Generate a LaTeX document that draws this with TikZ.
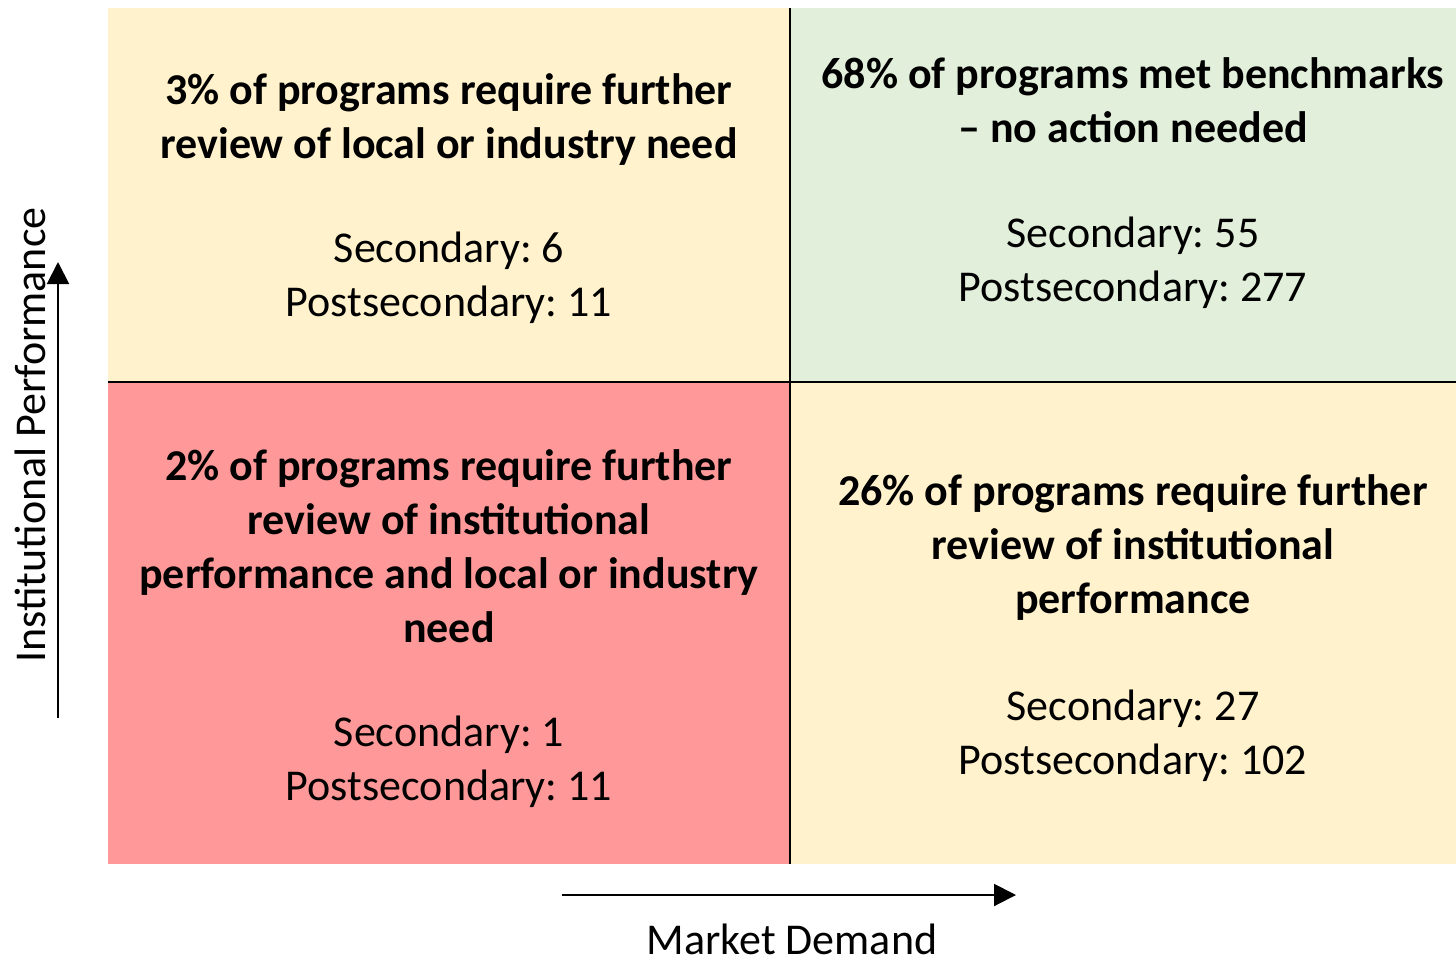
\documentclass[tikz,border=0pt]{standalone}
\usepackage{fontspec}
\setmainfont{Carlito}
\frenchspacing
\usetikzlibrary{arrows.meta}
\definecolor{needtan}{HTML}{FFF2CC}
\definecolor{metgreen}{HTML}{E2EFDA}
\definecolor{bothred}{HTML}{FF9999}
\tikzstyle{quadtitle}=[align=center,font=\fontsize{22}{27}\selectfont\bfseries,inner sep=0pt]
\tikzstyle{quadcount}=[align=center,font=\fontsize{22}{27}\selectfont,inner sep=0pt]
\tikzstyle{axislabel}=[font=\fontsize{22}{27}\selectfont,inner sep=0pt]
\tikzstyle{axisarrow}=[line width=1pt,-{Triangle[length=11pt,width=11pt]}]
\begin{document}
\begin{tikzpicture}[x=0.5pt,y=-0.5pt]
  \useasboundingbox (0,0) rectangle (1456,964);
  % quadrants
  \fill[needtan]  (108,8)   rectangle (790,382);
  \fill[metgreen] (790,8)   rectangle (1456,382);
  \fill[bothred]  (108,382) rectangle (790,864);
  \fill[needtan]  (790,382) rectangle (1456,864);
  \draw[line width=1pt] (790,8) -- (790,864);
  \draw[line width=1pt] (108,382) -- (1456,382);
  % top left
  \node[quadtitle] (tltitle) at (449,120) {3\% of programs require further\\review of local or industry need};
  \node[quadcount] (tlcount) at (449,278) {Secondary: 6\\Postsecondary: 11};
  % top right
  \node[quadtitle] (trtitle) at (1133,100) {68\% of programs met benchmarks\\– no action needed};
  \node[quadcount] (trcount) at (1133,263) {Secondary: 55\\Postsecondary: 277};
  % bottom left
  \node[quadtitle] (bltitle) at (449,546) {2\% of programs require further\\review of institutional\\performance and local or industry\\need};
  \node[quadcount] (blcount) at (449,762) {Secondary: 1\\Postsecondary: 11};
  % bottom right
  \node[quadtitle] (brtitle) at (1133,548) {26\% of programs require further\\review of institutional\\performance};
  \node[quadcount] (brcount) at (1133,736) {Secondary: 27\\Postsecondary: 102};
  % axes
  \coordinate (ybot) at (58,718);
  \coordinate (ytop) at (58,262);
  \coordinate (xleft) at (562,895);
  \coordinate (xright) at (1016,895);
  \draw[axisarrow] (ybot) -- (ytop);
  \draw[axisarrow] (xleft) -- (xright);
  \node[axislabel,rotate=90] (ylabel) at (30,435) {Institutional Performance};
  \node[axislabel] (xlabel) at (792,939) {Market Demand};
\end{tikzpicture}
\end{document}
